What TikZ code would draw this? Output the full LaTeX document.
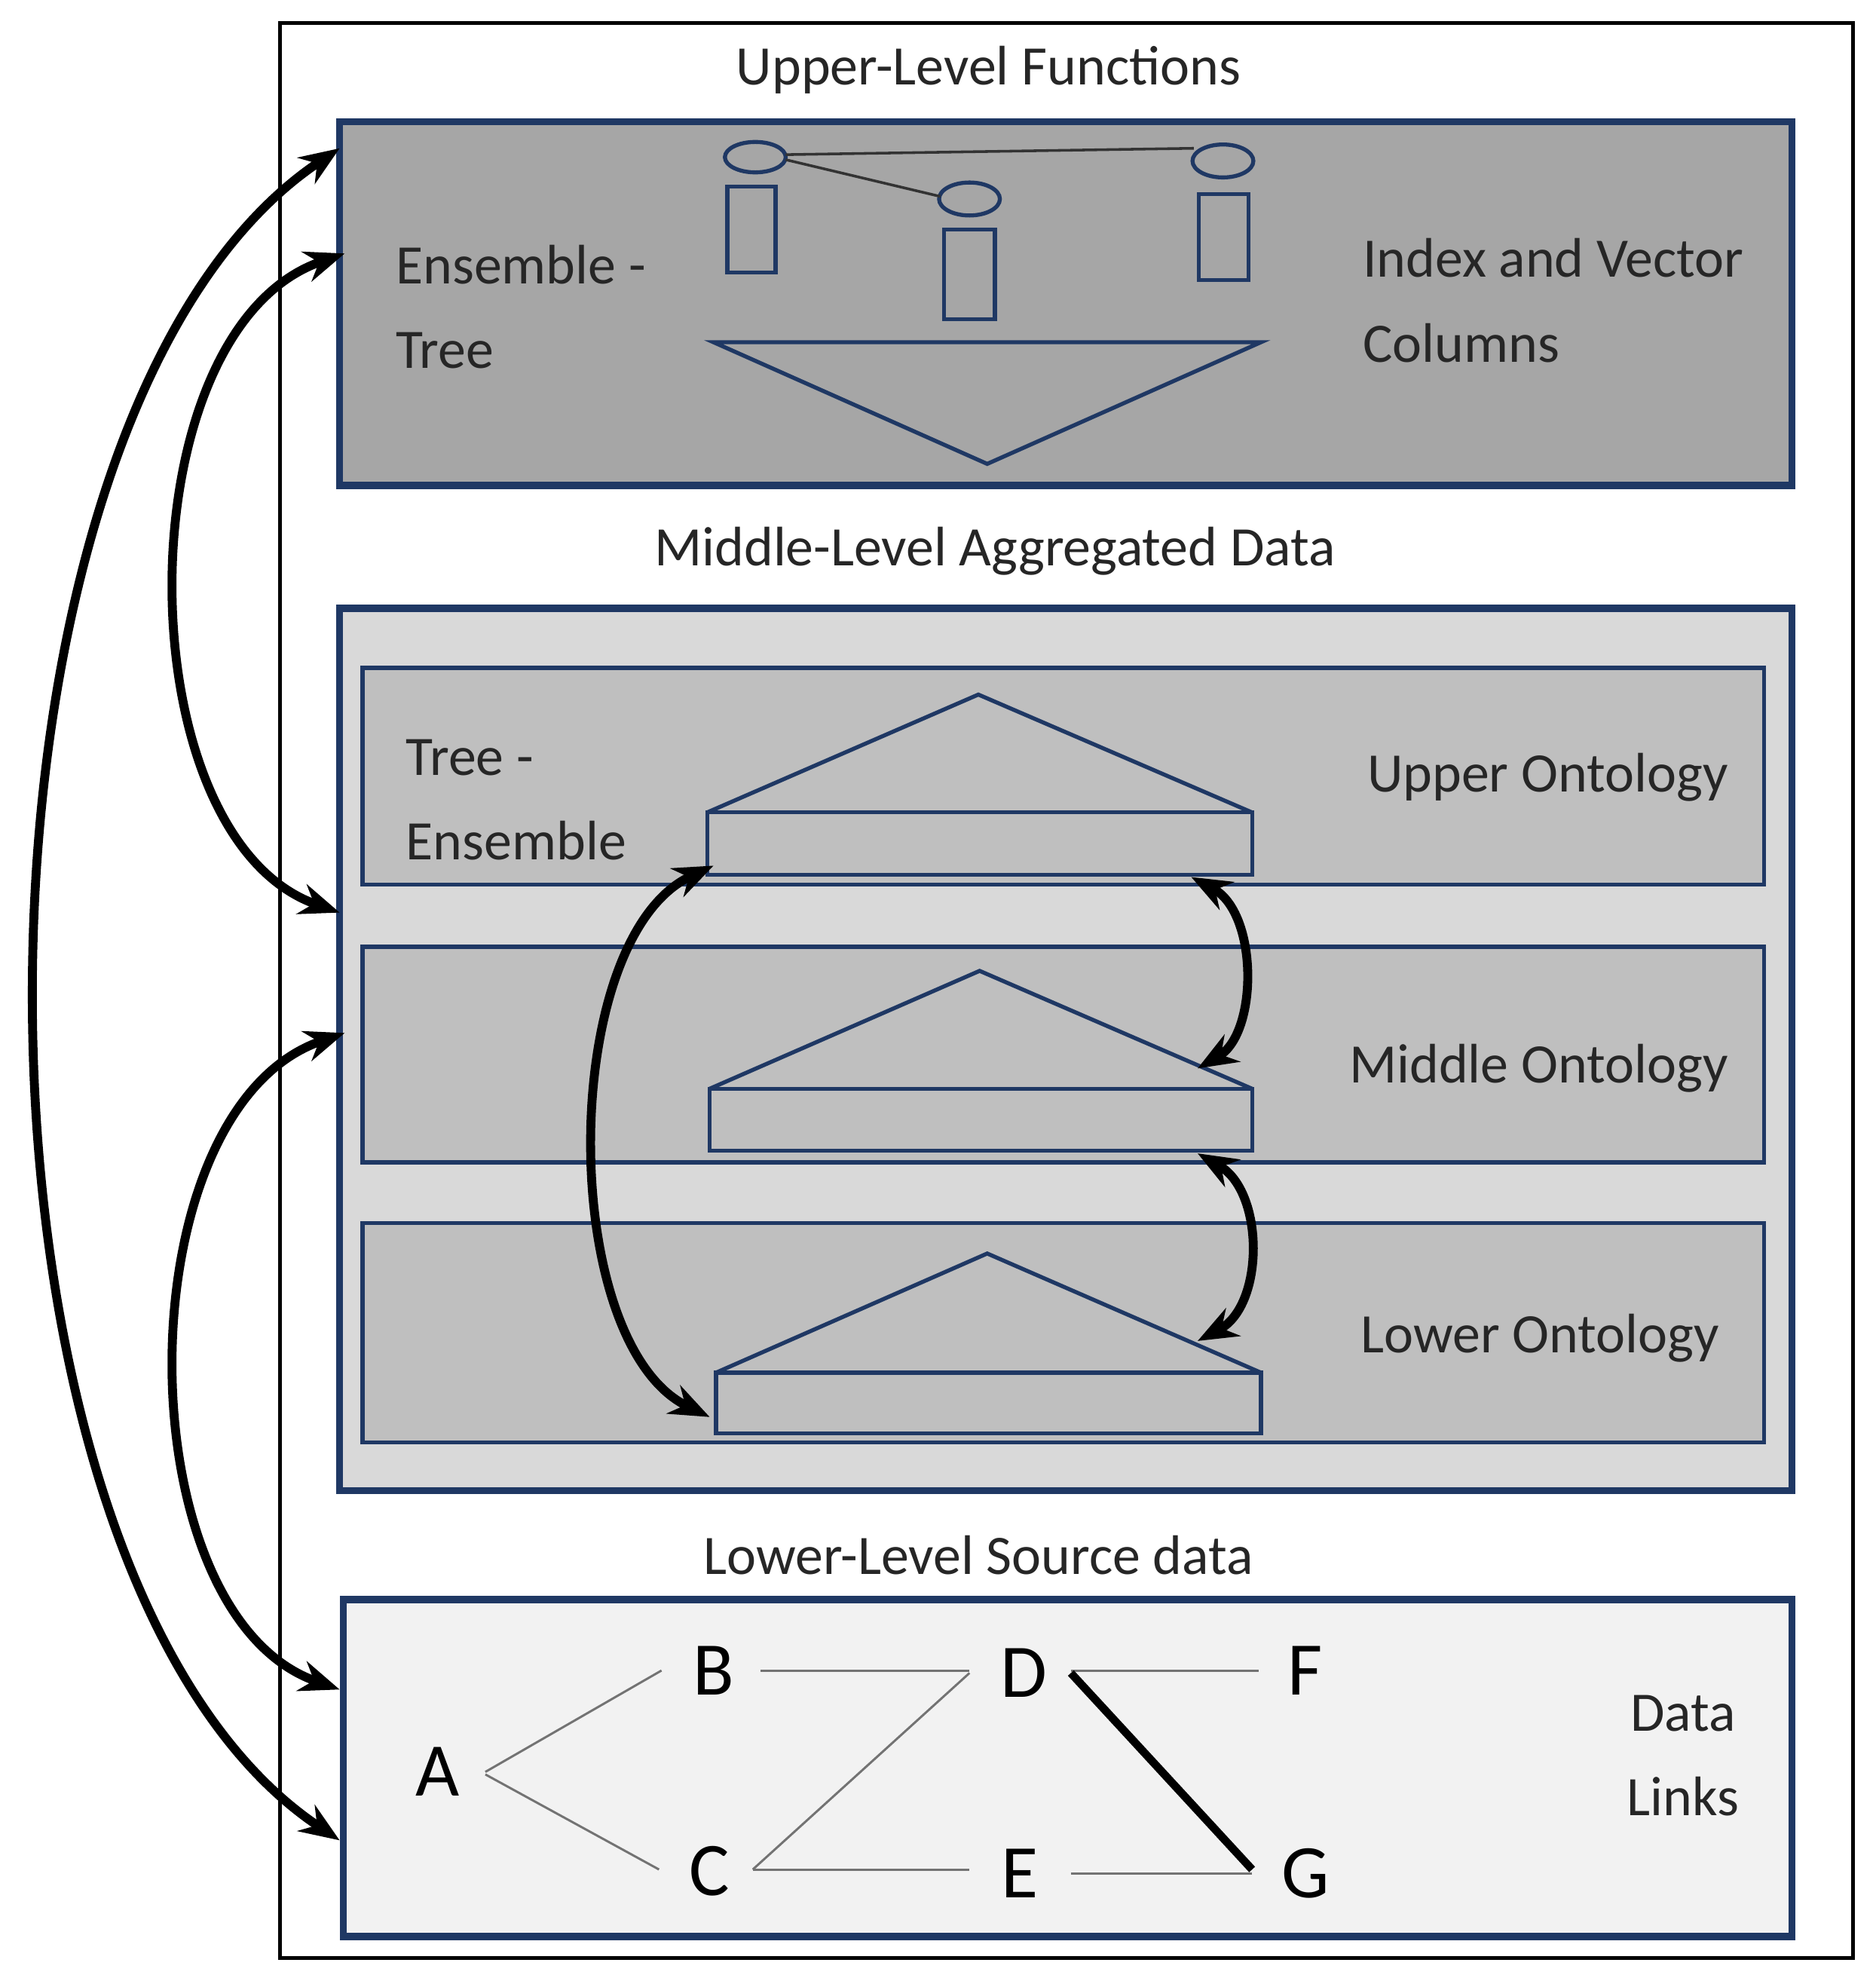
\documentclass[tikz,border=0pt]{standalone}
\usepackage{fontspec}
\setmainfont{Carlito}
\usetikzlibrary{arrows.meta}
\definecolor{navy}{HTML}{1F3864}
\begin{document}
\begin{tikzpicture}[x=0.01cm,y=-0.01cm,
 lbl/.style={font=\fontsize{12.5}{15}\selectfont,text=black!85},
 big/.style={font=\fontsize{17}{20}\selectfont,inner sep=0pt},
 panel/.style={draw=navy,line width=1.6pt},
 band/.style={draw=navy,line width=0.9pt,fill=black!25},
 shp/.style={draw=navy,line width=0.9pt},
 dl/.style={draw=black!55,line width=0.5pt},
 arr/.style={line width=2pt,{Stealth[length=9pt,width=7pt]}-{Stealth[length=9pt,width=7pt]}}]
\useasboundingbox (0,0) rectangle (1480,1563);
\draw[line width=0.8pt] (221,18) rectangle (1462,1545);
\node[lbl] (t1) at (780,55) {Upper-Level Functions};
\draw[panel,fill=black!35] (268,96) rectangle (1414,383);
\node[lbl,align=left,anchor=west] (et) at (300,242) {Ensemble -\\[4pt]Tree};
\node[lbl,align=left,anchor=west] (ivc) at (1063,237) {Index and Vector\\[4pt]Columns};
\draw[shp] (596,124) ellipse (24 and 12);
\draw[shp] (574,147) rectangle (612,215);
\draw[shp] (765,157) ellipse (24 and 13);
\draw[shp] (745,181) rectangle (785,252);
\draw[shp] (965,127) ellipse (24 and 13);
\draw[shp] (946,153) rectangle (985,221);
\draw[black!80,line width=0.6pt] (620,122) -- (942,117);
\draw[black!80,line width=0.6pt] (620,126) -- (742,155);
\draw[shp] (563,270) -- (995,270) -- (779,366) -- cycle;
\node[lbl] (t2) at (785,435) {Middle-Level Aggregated Data};
\draw[panel,fill=black!15] (268,480) rectangle (1414,1176);
\draw[band] (286,527) rectangle (1392,698);
\draw[band] (286,747) rectangle (1392,917);
\draw[band] (286,965) rectangle (1392,1138);
\draw[shp] (558,641) -- (772,548) -- (988,641);
\draw[shp] (558,641) rectangle (988,690);
\draw[shp] (560,859) -- (773,766) -- (988,859);
\draw[shp] (560,859) rectangle (988,908);
\draw[shp] (565,1083) -- (779,989) -- (995,1083);
\draw[shp] (565,1083) rectangle (995,1131);
\node[lbl,align=left,anchor=west] (te) at (308,631) {Tree -\\[4pt]Ensemble};
\node[lbl,anchor=east] (uo) at (1376,613) {Upper Ontology};
\node[lbl,anchor=east] (mo) at (1376,843) {Middle Ontology};
\node[lbl,anchor=east] (lo) at (1369,1056) {Lower Ontology};
\node[lbl] (t3) at (772,1227) {Lower-Level Source data};
\draw[panel,fill=black!5] (271,1262) rectangle (1414,1528);
\node[big] (A) at (345,1398) {A};
\node[big] (B) at (563,1318) {B};
\node[big] (C) at (560,1476) {C};
\node[big] (D) at (808,1320) {D};
\node[big] (E) at (805,1478) {E};
\node[big] (F) at (1030,1318) {F};
\node[big] (G) at (1030,1478) {G};
\node[lbl,align=center] (dlk) at (1328,1385) {Data\\[4pt]Links};
\draw[dl] (383,1398) -- (522,1318);
\draw[dl] (383,1400) -- (520,1475);
\draw[dl] (600,1318) -- (765,1318);
\draw[dl] (765,1320) -- (594,1475);
\draw[dl] (594,1475) -- (765,1475);
\draw[dl] (845,1318) -- (993,1318);
\draw[dl] (845,1478) -- (988,1478);
\draw[line width=1.8pt] (845,1320) -- (988,1475);
\coordinate (a1s) at (268,117); \coordinate (a1e) at (268,1452);
\coordinate (a2s) at (272,200); \coordinate (a2e) at (268,720);
\coordinate (a3s) at (272,815); \coordinate (a3e) at (268,1333);
\coordinate (a4s) at (563,683); \coordinate (a4e) at (560,1118);
\coordinate (a5s) at (940,692); \coordinate (a5e) at (945,843);
\coordinate (a6s) at (945,910); \coordinate (a6e) at (945,1058);
\draw[arr] (a1s) .. controls (-50,330) and (-50,1240) .. (a1e);
\draw[arr] (a2s) .. controls (97,260) and (97,660) .. (a2e);
\draw[arr] (a3s) .. controls (97,875) and (97,1273) .. (a3e);
\draw[arr] (a4s) .. controls (440,740) and (440,1060) .. (a4e);
\draw[arr] (a5s) .. controls (993,720) and (993,815) .. (a5e);
\draw[arr] (a6s) .. controls (998,940) and (998,1030) .. (a6e);
\end{tikzpicture}
\end{document}
